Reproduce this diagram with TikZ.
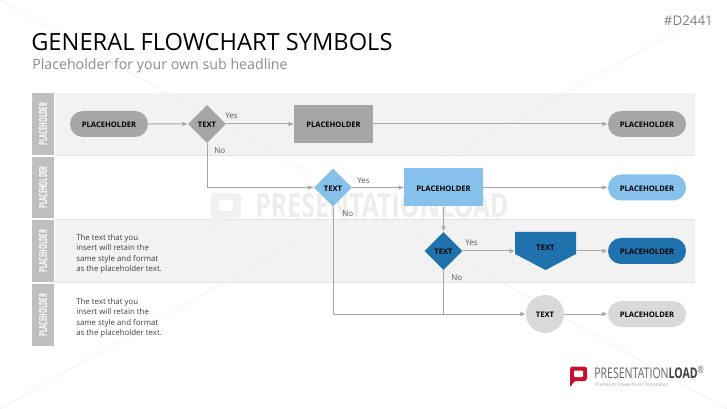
\documentclass[tikz,border=0pt]{standalone}
\usepackage{fontspec}
\setmainfont{Open Sans}
\usetikzlibrary{
    arrows.meta,
    shapes.geometric,
    shapes.misc,
    calc
}
\definecolor{bandgrey}{HTML}{F2F2F2}
\definecolor{rulegrey}{HTML}{E4E4E4}
\definecolor{lanegrey}{HTML}{BFBFBF}
\definecolor{midgrey}{HTML}{A6A6A6}
\definecolor{palegrey}{HTML}{D9D9D9}
\definecolor{lightblue}{HTML}{85C1EA}
\definecolor{darkblue}{HTML}{1F72AE}
\definecolor{loadred}{HTML}{C8102E}
\newcommand{\lanetext}[1]{\rotatebox{90}{\scalebox{.53}[1]{\fontsize{8.4}{10}\selectfont\bfseries #1}}}
\tikzset{
    flow/.style={draw=midgrey, line width=.75pt, -{Latex[length=4pt,width=3.5pt]}},
    plain/.style={draw=midgrey, line width=.75pt},
    shapetext/.style={inner sep=0pt, text height=5.5pt, text depth=0pt, font=\fontsize{5.7}{7}\selectfont\bfseries},
    term/.style={shapetext, rounded rectangle, minimum width=58.5pt, minimum height=19.5pt},
    proc/.style={shapetext, rectangle, minimum width=59pt, minimum height=28.5pt},
    dec/.style={shapetext, diamond, minimum width=28.5pt, minimum height=28.5pt},
    lane/.style={fill=lanegrey, minimum width=16.5pt, inner sep=0pt, text=white},
    tag/.style={font=\fontsize{6}{7}\selectfont, text=black!65, inner sep=0pt},
    note/.style={font=\fontsize{5.9}{7.9}\selectfont, text=black!75, align=left, anchor=north west, inner sep=0pt},
    faint/.style={draw=black!7, line width=.4pt}
}
\begin{document}
\begin{tikzpicture}[x=.75pt, y=-.75pt]
    \useasboundingbox (0, 0) rectangle (727, 409);

    % bands
    \fill[bandgrey] (55, 93) rectangle (695, 155);
    \fill[bandgrey] (55, 220) rectangle (695, 283);
    \draw[rulegrey, line width=.75pt] (55, 155.5) -- (695, 155.5);
    \draw[rulegrey, line width=.75pt] (55, 219.5) -- (695, 219.5);
    \draw[rulegrey, line width=.75pt] (55, 283) -- (695, 283);

    % watermark
    \coordinate (cornerA) at (0, 0);
    \coordinate (gapA) at (310, 173);
    \coordinate (gapB) at (417, 235);
    \coordinate (cornerB) at (727, 409);
    \coordinate (cornerC) at (681, 29);
    \coordinate (gapC) at (414, 176);
    \coordinate (gapD) at (308, 235);
    \coordinate (cornerD) at (0, 409);
    \draw[faint] (cornerA) -- (gapA) (gapB) -- (cornerB);
    \draw[faint] (cornerC) -- (gapC) (gapD) -- (cornerD);
    \fill[black!6, rounded corners=3pt] (211, 193) -- (241, 193) -- (241, 218) -- (221, 218) -- (211, 231) -- cycle;
    \fill[white, rounded corners=1pt] (219, 200) -- (233, 200) -- (233, 211) -- (219, 211) -- cycle;
    \node[anchor=west, inner sep=0pt, text=black!7] (mark) at (255, 205.5) {\fontsize{25}{27}\selectfont\bfseries\scalebox{.747}[1]{PRESENTATIONLOAD}};

    % headings
    \node[anchor=west, inner sep=0pt] (title) at (31, 42.5) {\fontsize{17.75}{20}\selectfont GENERAL FLOWCHART SYMBOLS};
    \node[anchor=west, inner sep=0pt, text=black!45] (subtitle) at (32, 66) {\fontsize{10.65}{13}\selectfont Placeholder for your own sub headline};
    \node[anchor=east, inner sep=0pt, text=black!50] (code) at (713, 21) {\fontsize{10}{11}\selectfont\#D2441};

    % lanes
    \node[lane, minimum height=46.5pt] (laneA) at (43, 124) {\lanetext{PLACEHOLDER}};
    \node[lane, minimum height=46pt] (laneB) at (43, 187.5) {\lanetext{PLACEHOLDER}};
    \node[lane, minimum height=46.5pt] (laneC) at (43, 251) {\lanetext{PLACEHOLDER}};
    \node[lane, minimum height=46.5pt] (laneD) at (43, 315) {\lanetext{PLACEHOLDER}};

    % row one
    \node[term, fill=midgrey] (startA) at (109, 124) {PLACEHOLDER};
    \node[dec, fill=midgrey] (decA) at (207, 124) {TEXT};
    \node[proc, fill=midgrey] (procA) at (333.5, 124) {PLACEHOLDER};
    \node[term, fill=midgrey] (endA) at (647, 124) {PLACEHOLDER};

    % row two
    \node[dec, fill=lightblue] (decB) at (333, 187.5) {TEXT};
    \node[proc, fill=lightblue] (procB) at (443.5, 187.5) {PLACEHOLDER};
    \node[term, fill=lightblue] (endB) at (647, 187.5) {PLACEHOLDER};

    % row three
    \node[dec, fill=darkblue] (decC) at (443.5, 251) {TEXT};
    \fill[darkblue] (515, 232) -- (576, 232) -- (576, 254) -- (545.5, 270) -- (515, 254) -- cycle;
    \node[shapetext] (off) at (545.5, 247) {TEXT};
    \coordinate (offL) at (515, 251);
    \coordinate (offR) at (576, 251);
    \node[term, fill=darkblue] (endC) at (647, 251) {PLACEHOLDER};

    % row four
    \node[shapetext, circle, fill=palegrey, minimum size=28.5pt] (circD) at (545, 314) {TEXT};
    \node[term, fill=palegrey] (endD) at (647, 314) {PLACEHOLDER};
    \coordinate (join) at (decC |- circD);

    \node[note] (noteC) at (76, 234) {The text that you\\insert will retain the\\same style and format\\as the placeholder text.};
    \node[note] (noteD) at (76, 298) {The text that you\\insert will retain the\\same style and format\\as the placeholder text.};

    \draw
    (startA) edge[flow] (decA)
    (decA) edge[flow] (procA)
    (procA) edge[flow] (endA)
    (decB) edge[flow] (procB)
    (procB) edge[flow] (endB)
    (procB) edge[flow] (decC)
    (decC) edge[flow] (offL)
    (offR) edge[flow] (endC)
    (decC) edge[plain] (join)
    (circD) edge[flow] (endD);
    \draw[flow] (decA) |- (decB);
    \draw[flow] (decB) |- (circD);

    % branch labels
    \node[tag, anchor=west] (yesA) at (225, 116) {Yes};
    \node[tag, anchor=west] (noA) at (214, 151) {No};
    \node[tag, anchor=west] (yesB) at (357, 181) {Yes};
    \node[tag, anchor=west] (noB) at (342, 214) {No};
    \node[tag, anchor=west] (yesC) at (465, 243) {Yes};
    \node[tag, anchor=west] (noC) at (451, 278) {No};

    % logo
    \fill[loadred, rounded corners=2pt] (570, 366.5) -- (587, 366.5) -- (587, 381) -- (574, 381) -- (570, 388) -- cycle;
    \fill[white, rounded corners=.7pt] (574, 370.5) -- (583, 370.5) -- (583, 377) -- (574, 377) -- cycle;
    \node[anchor=west, inner sep=0pt, text=black!60] (brand) at (594, 372.5) {\fontsize{11}{12}\selectfont\scalebox{.72}[1]{PRESENTATION\textbf{\textcolor{black!75}{LOAD}}\textsuperscript{®}}};
    \node[anchor=west, inner sep=0pt, text=black!35] (claim) at (595, 385) {\fontsize{3.65}{4}\selectfont Premium PowerPoint Templates};
\end{tikzpicture}
\end{document}
